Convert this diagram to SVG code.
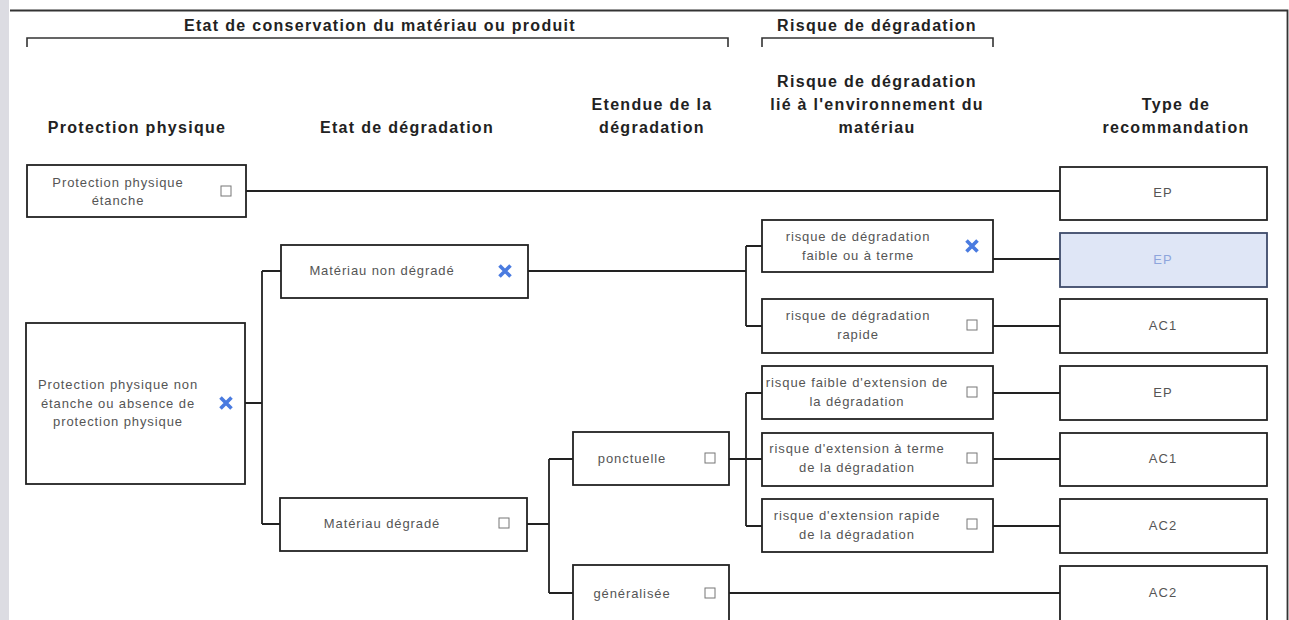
<svg xmlns="http://www.w3.org/2000/svg" width="1289" height="620" viewBox="0 0 1289 620">
<style>
.hd{font-family:"Liberation Sans",Arial,sans-serif;font-weight:bold;font-size:16px;fill:#222;text-anchor:middle;letter-spacing:1.3px}
.tx{font-family:"Liberation Sans",Arial,sans-serif;font-size:13px;fill:#555;text-anchor:middle;letter-spacing:0.9px}
.rc{font-family:"Liberation Sans",Arial,sans-serif;font-size:13px;fill:#555;text-anchor:middle;letter-spacing:1px}
.box{fill:#fff;stroke:#222;stroke-width:1.8}
.sel{fill:#dfe6f6;stroke:#3d4a6a;stroke-width:1.8}
.cb{fill:#fff;stroke:#777;stroke-width:1}
.xm{stroke:#4a7be0;stroke-width:3.6;stroke-linecap:butt}
.ln{fill:none;stroke:#222;stroke-width:1.8}
.br{fill:none;stroke:#333;stroke-width:1.6}
</style>
<defs>
<g id="chk"><rect class="cb" x="-5" y="-5" width="10" height="10"/></g>
<g id="xx"><path class="xm" d="M-5.5,-5.5 L5.5,5.5 M5.5,-5.5 L-5.5,5.5"/></g>
</defs>
<rect x="0" y="0" width="1289" height="620" fill="#fff"/>
<rect x="0" y="0" width="9" height="620" fill="#dcdce2"/>
<path d="M10,10.5 H1287.5 V620" fill="none" stroke="#333" stroke-width="1.8"/>

<g id="headers">
<text class="hd" x="380" y="31">Etat de conservation du matériau ou produit</text>
<path class="br" d="M27,47 V38 H728 V47"/>
<text class="hd" x="877" y="31">Risque de dégradation</text>
<path class="br" d="M762,47 V38 H993 V47"/>
<text class="hd" x="137" y="133">Protection physique</text>
<text class="hd" x="407" y="133">Etat de dégradation</text>
<text class="hd" x="652" y="110">Etendue de la</text>
<text class="hd" x="652" y="133">dégradation</text>
<text class="hd" x="877" y="87">Risque de dégradation</text>
<text class="hd" x="877" y="110">lié à l'environnement du</text>
<text class="hd" x="877" y="133">matériau</text>
<text class="hd" x="1176" y="110">Type de</text>
<text class="hd" x="1176" y="133">recommandation</text>
</g>

<g id="connectors">
<path class="ln" d="M246,191 H1060"/>
<path class="ln" d="M245,403 H262 M262,271 V524 M262,271 H281 M262,524 H280"/>
<path class="ln" d="M528,271 H746 M746,246 V326 M746,246 H762 M746,326 H762"/>
<path class="ln" d="M993,259 H1060"/>
<path class="ln" d="M993,326 H1060"/>
<path class="ln" d="M527,524 H549 M549,459 V593 M549,459 H573 M549,593 H573"/>
<path class="ln" d="M729,459 H762 M746,393 V526 M746,393 H762 M746,526 H762"/>
<path class="ln" d="M993,393 H1060"/>
<path class="ln" d="M993,459 H1060"/>
<path class="ln" d="M993,526 H1060"/>
<path class="ln" d="M729,593 H1060"/>
</g>

<g id="n-pp-etanche">
<rect class="box" x="27" y="165" width="219" height="52"/>
<text class="tx" x="118" y="187">Protection physique</text>
<text class="tx" x="118" y="205">étanche</text>
<use href="#chk" x="226" y="191"/>
</g>
<g id="n-pp-non-etanche">
<rect class="box" x="26" y="323" width="219" height="161"/>
<text class="tx" x="118" y="389">Protection physique non</text>
<text class="tx" x="118" y="408">étanche ou absence de</text>
<text class="tx" x="118" y="426">protection physique</text>
<use href="#xx" x="226" y="403"/>
</g>
<g id="n-mat-non-degrade">
<rect class="box" x="281" y="245" width="247" height="53"/>
<text class="tx" x="382" y="275">Matériau non dégradé</text>
<use href="#xx" x="505" y="271"/>
</g>
<g id="n-mat-degrade">
<rect class="box" x="280" y="498" width="247" height="53"/>
<text class="tx" x="382" y="528">Matériau dégradé</text>
<use href="#chk" x="504" y="523"/>
</g>
<g id="n-ponctuelle">
<rect class="box" x="573" y="432" width="156" height="53"/>
<text class="tx" x="632" y="463">ponctuelle</text>
<use href="#chk" x="710" y="458"/>
</g>
<g id="n-generalisee">
<rect class="box" x="573" y="565" width="156" height="60"/>
<text class="tx" x="632" y="598">généralisée</text>
<use href="#chk" x="710" y="593"/>
</g>
<g id="n-risque-faible">
<rect class="box" x="762" y="220" width="231" height="52"/>
<text class="tx" x="858" y="241">risque de dégradation</text>
<text class="tx" x="858" y="260">faible ou à terme</text>
<use href="#xx" x="972" y="246"/>
</g>
<g id="n-risque-rapide">
<rect class="box" x="762" y="299" width="231" height="54"/>
<text class="tx" x="858" y="320">risque de dégradation</text>
<text class="tx" x="858" y="339">rapide</text>
<use href="#chk" x="972" y="325"/>
</g>
<g id="n-ext-faible">
<rect class="box" x="762" y="366" width="231" height="53"/>
<text class="tx" x="857" y="387">risque faible d'extension de</text>
<text class="tx" x="857" y="406">la dégradation</text>
<use href="#chk" x="972" y="392"/>
</g>
<g id="n-ext-terme">
<rect class="box" x="762" y="433" width="231" height="53"/>
<text class="tx" x="857" y="453">risque d'extension à terme</text>
<text class="tx" x="857" y="472">de la dégradation</text>
<use href="#chk" x="972" y="458"/>
</g>
<g id="n-ext-rapide">
<rect class="box" x="762" y="499" width="231" height="53"/>
<text class="tx" x="857" y="520">risque d'extension rapide</text>
<text class="tx" x="857" y="539">de la dégradation</text>
<use href="#chk" x="972" y="524"/>
</g>
<g id="r-ep1">
<rect class="box" x="1060" y="167" width="207" height="53"/>
<text class="rc" x="1163" y="197">EP</text>
</g>
<g id="r-ep2">
<rect class="sel" x="1060" y="233" width="207" height="54"/>
<text class="rc" x="1163" y="264" style="fill:#8ea5dc">EP</text>
</g>
<g id="r-ac1a">
<rect class="box" x="1060" y="299" width="207" height="54"/>
<text class="rc" x="1163" y="330">AC1</text>
</g>
<g id="r-ep3">
<rect class="box" x="1060" y="366" width="207" height="54"/>
<text class="rc" x="1163" y="397">EP</text>
</g>
<g id="r-ac1b">
<rect class="box" x="1060" y="433" width="207" height="53"/>
<text class="rc" x="1163" y="463">AC1</text>
</g>
<g id="r-ac2a">
<rect class="box" x="1060" y="499" width="207" height="54"/>
<text class="rc" x="1163" y="530">AC2</text>
</g>
<g id="r-ac2b">
<rect class="box" x="1060" y="566" width="207" height="60"/>
<text class="rc" x="1163" y="597">AC2</text>
</g>
</svg>
